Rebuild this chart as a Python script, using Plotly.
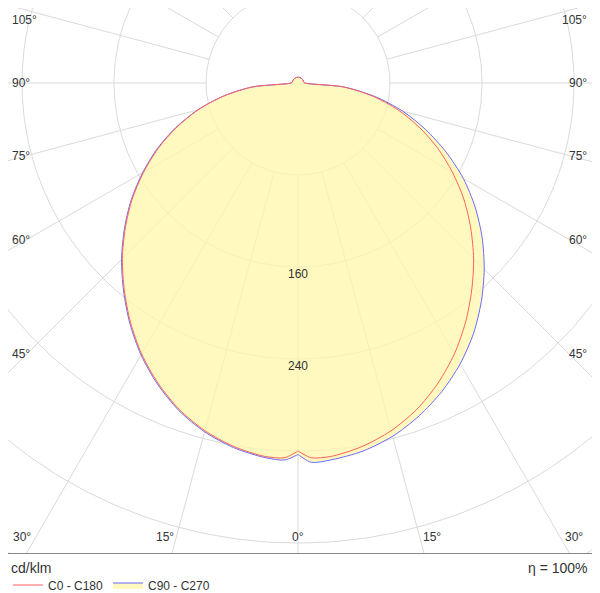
import numpy as np
import plotly.graph_objects as go

ANGLES = [0, 2, 5, 10, 15, 20, 25, 30, 35, 40, 45, 50, 55, 60, 65, 70, 75, 80, 85, 90,
          100, 120, 140, 160, 175, 180]
C0 = [320, 326, 326, 321, 313, 302, 288, 272, 254, 235, 216, 196, 176, 155, 134, 112, 90, 66, 40, 6,
      5, 5, 5, 5, 5, 5]
C90 = [323, 330, 329, 325, 318, 308, 296, 282, 266, 248, 229, 209, 188, 166, 142, 118, 94, 68, 40, 6,
       5, 5, 5, 5, 5, 5]
C270 = [323, 328, 327, 322, 314, 303, 289, 273, 255, 236, 217, 197, 177, 156, 135, 113, 90, 66, 40, 6,
        5, 5, 5, 5, 5, 5]
GRID_R = [80, 160, 240, 320, 400, 480, 560]
RAY_ANGLES = list(range(-180, 181, 15))
RADIAL_LABELS = [160, 240]
SIDE_LABELS = ["105°", "90°", "75°", "60°", "45°"]
BOTTOM_LABELS = ["30°", "15°", "0°", "15°", "30°"]

def curve(right, left):
    a = np.radians(ANGLES)
    ra = np.array(right, float); la = np.array(left, float)
    xr, yr = ra*np.sin(a), -ra*np.cos(a)
    xl, yl = -la*np.sin(a), -la*np.cos(a)
    return np.concatenate([xl[::-1], xr]), np.concatenate([yl[::-1], yr])

# page body is offset 8px; screen coords -> figure coords
OFF = 8
W, H = 592, 585
L, R, T, B = 0, 3, 0, 40          # plot area: screen x 8..597, y 8..553
PW, PH = W - L - R, H - T - B
def px(sx): return (sx - OFF - L) / PW
def py(sy): return 1 - (sy - OFF - T) / PH

fig = go.Figure()
GRID = "#dadada"
t = np.linspace(0, 2*np.pi, 361)
for r in GRID_R:
    fig.add_trace(go.Scatter(x=r*np.sin(t), y=r*np.cos(t), mode="lines",
                             line=dict(color=GRID, width=1), hoverinfo="skip", showlegend=False))
for ang in RAY_ANGLES:
    a = np.radians(ang)
    fig.add_trace(go.Scatter(x=[80*np.sin(a), 700*np.sin(a)], y=[-80*np.cos(a), -700*np.cos(a)],
                             mode="lines", line=dict(color=GRID, width=1), hoverinfo="skip", showlegend=False))

bx, by = curve(C90, C270)
fig.add_trace(go.Scatter(x=bx, y=by, mode="lines", fill="toself", fillcolor="rgba(255,247,170,0.75)",
                         line=dict(color="#6a6aff", width=1, shape="spline", smoothing=0.8),
                         name="C90 - C270", legendrank=2))
rx, ry = curve(C0, C0)
fig.add_trace(go.Scatter(x=rx, y=ry, mode="lines",
                         line=dict(color="#ff6060", width=1, shape="spline", smoothing=0.8),
                         name="C0 - C180", legendrank=1))

font = dict(family="Liberation Sans, Arial", size=12, color="#333")
for v in RADIAL_LABELS:
    fig.add_annotation(x=0, y=-(v+6), text=str(v), showarrow=False, font=font, yanchor="middle")

side_px = [20, 83, 156, 240, 354]
for lab, sy in zip(SIDE_LABELS, side_px):
    fig.add_annotation(xref="paper", yref="paper", x=px(10), y=py(sy), text=lab, showarrow=False,
                       xanchor="left", yanchor="middle", font=font)
    fig.add_annotation(xref="paper", yref="paper", x=px(589), y=py(sy), text=lab, showarrow=False,
                       xanchor="right", yanchor="middle", font=font)
bot_px = [22, 165, 298, 432, 574]
for lab, sx in zip(BOTTOM_LABELS, bot_px):
    fig.add_annotation(xref="paper", yref="paper", x=px(sx), y=py(537), text=lab,
                       showarrow=False, xanchor="center", yanchor="middle", font=font)
big = dict(family="Liberation Sans, Arial", size=14, color="#333")
fig.add_annotation(xref="paper", yref="paper", x=px(9), y=py(568), text="cd/klm", showarrow=False,
                   xanchor="left", yanchor="middle", font=big)
fig.add_annotation(xref="paper", yref="paper", x=px(590), y=py(568), text="η = 100%", showarrow=False,
                   xanchor="right", yanchor="middle", font=big)

S = 1.15
fig.update_xaxes(range=[-(298-OFF-L)/S, (597-298)/S], showgrid=False, zeroline=False, showticklabels=False,
                 ticks="", showline=True, mirror=True, linecolor="#888", linewidth=1, fixedrange=True)
fig.update_yaxes(range=[-(553-83)/S, (83-OFF-T)/S], showgrid=False, zeroline=False, showticklabels=False,
                 ticks="", showline=True, mirror=True, linecolor="#888", linewidth=1, fixedrange=True)
fig.update_layout(width=W, height=H, margin=dict(l=L, r=R, t=T, b=B, autoexpand=False),
                  plot_bgcolor="white", paper_bgcolor="white",
                  legend=dict(orientation="h", xref="container", yref="container",
                              x=0.0, y=1-(585-OFF)/H, yanchor="middle", xanchor="left",
                              font=dict(family="Liberation Sans, Arial", size=12, color="#333"),
                              itemwidth=30, bgcolor="rgba(0,0,0,0)", traceorder="normal"))
fig.write_html("out.html")
